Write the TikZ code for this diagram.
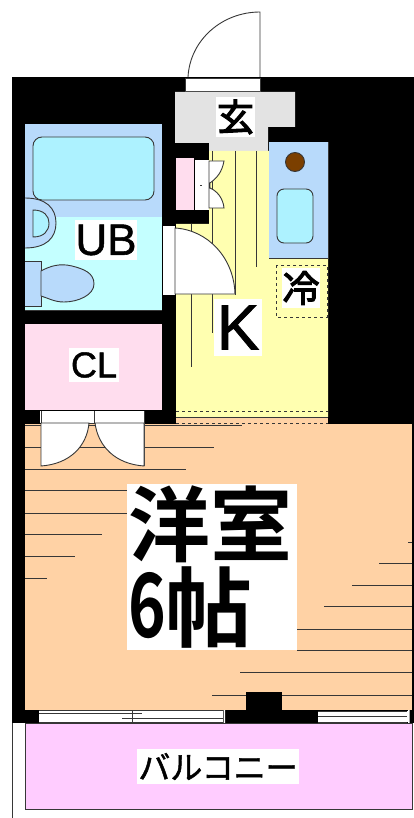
\documentclass[tikz,border=0pt]{standalone}
\usepackage{fontspec}
\setmainfont{Liberation Sans}
\newfontfamily\heavyfont[FakeBold=1.2]{Liberation Sans}
\newfontfamily\jpfont[FakeBold=1.5]{Noto Sans CJK JP}
\newfontfamily\jpheavyfont[FakeBold=3]{Noto Sans CJK JP}
\newfontfamily\jpbigfont{Noto Sans CJK JP Bold}
\definecolor{wallblack}{RGB}{0, 0, 0}
\definecolor{linegray}{RGB}{55, 55, 55}
\definecolor{entrygray}{RGB}{227, 227, 227}
\definecolor{unitblue}{RGB}{184, 218, 251}
\definecolor{tubcyan}{RGB}{173, 242, 255}
\definecolor{floorcyan}{RGB}{196, 255, 255}
\definecolor{closetpink}{RGB}{255, 221, 238}
\definecolor{kitchenyellow}{RGB}{255, 255, 176}
\definecolor{roomorange}{RGB}{255, 210, 165}
\definecolor{balconypink}{RGB}{255, 204, 255}
\definecolor{stovebrown}{RGB}{123, 63, 0}
\tikzset{
  thinline/.style={draw=linegray, line width=0.9pt},
  labelbox/.style={fill=white, inner sep=0pt, align=center, text=black}
}
\begin{document}
\begin{tikzpicture}[x=1pt, y=-1pt]
  \useasboundingbox (0,0) rectangle (414,818);
  % walls
  \fill[wallblack] (12,77) rectangle (414,723);
  % entrance door
  \draw[thinline, fill=white] (188,77) .. controls (190,40) and (222,12) .. (260,12) -- (260,77);
  \draw[thinline, fill=white] (185,78) rectangle (260,91);
  \fill[entrygray] (175,92) -- (295,92) -- (295,127) -- (268,127) -- (268,151) -- (209,151) -- (209,143) -- (175,143) -- cycle;
  % kitchen
  \fill[kitchenyellow] (209,151) -- (269,151) -- (269,258) -- (328,258) -- (328,417) -- (176,417) -- (176,224) -- (209,224) -- cycle;
  \fill[roomorange] (176,417) rectangle (328,424);
  \draw[thinline] (269,142) rectangle (328,258);
  \fill[unitblue] (269,142) rectangle (328,258);
  \draw[thinline, fill=stovebrown] (295,162) circle (9.5);
  \draw[thinline, fill=tubcyan, rounded corners=7pt] (277,189) rectangle (313,243);
  \draw[thinline] (212,151) -- (212,333) (235,151) -- (235,295) (256,151) -- (256,267) (191,224) -- (191,367);
  \draw[thinline, dashed] (176,411) -- (328,411) (176,423) -- (328,423);
  \draw[thinline] (176,417) -- (328,417);
  % shoe cabinet
  \fill[closetpink] (176,158) rectangle (194,210);
  \fill[white] (195,160) rectangle (209,210);
  \draw[thinline, fill=white] (209,161) -- (224,161) .. controls (222,172) and (217,178) .. (210,183) -- (210,188) .. controls (217,191) and (223,198) .. (224,208) -- (209,208) -- cycle;
  \draw[thinline] (200,185) -- (202,185);
  % bath door
  \fill[white] (163,226) rectangle (175,295);
  \draw[thinline, fill=white] (175,228) .. controls (208,230) and (234,258) .. (235,294) -- (175,294) -- cycle;
  % unit bath
  \fill[floorcyan] (25,217) rectangle (162,310);
  \fill[unitblue] (25,124) rectangle (162,217);
  \draw[thinline, fill=tubcyan, rounded corners=9pt] (33,137) rectangle (154,200);
  \draw[thinline, fill=unitblue] (25,198) .. controls (46,198) and (56,208) .. (56,223) .. controls (56,238) and (46,248) .. (25,248);
  \draw[thinline, fill=tubcyan] (33,210) .. controls (44,210) and (49,216) .. (49,223) .. controls (49,231) and (44,237) .. (33,237) -- cycle;
  \draw[thinline, fill=unitblue] (25,261) -- (41,261) -- (41,306) -- (25,306);
  \draw[thinline, fill=unitblue] (41,271) .. controls (50,266) and (60,263) .. (72,266) .. controls (84,269) and (94,273) .. (94,284) .. controls (94,295) and (78,302) .. (64,302) .. controls (54,302) and (48,298) .. (41,296) -- cycle;
  \draw[thinline] (25,310) -- (162,310);
  % closet
  \fill[closetpink] (25,324) rectangle (162,410);
  % western room
  \fill[roomorange] (25,424) rectangle (412,710);
  \fill[wallblack] (412,424) rectangle (414,723);
  \draw[thinline]
    (25,425) -- (242,425) (25,447) -- (214,447) (25,469) -- (186,469)
    (25,490) -- (127,490) (25,513) -- (127,513) (25,534) -- (102,534)
    (25,556) -- (75,556) (25,578) -- (47,578)
    (408,542) -- (412,542) (379,563) -- (412,563) (352,585) -- (412,585)
    (324,606) -- (412,606) (297,629) -- (412,629) (297,650) -- (412,650)
    (240,672) -- (412,672) (212,695) -- (412,695);
  % closet doors
  \fill[white] (40,411) rectangle (144,423);
  \draw[thinline] (41,411) -- (41,466) (144,411) -- (144,466) (94,411) -- (94,423) (41,423) -- (144,423);
  \draw[thinline, fill=white] (41,423) -- (89,423) .. controls (87,446) and (70,464) .. (41,466) -- cycle;
  \draw[thinline, fill=white] (144,423) -- (95,423) .. controls (98,446) and (115,464) .. (144,466) -- cycle;
  % windows
  \fill[wallblack] (246,692) rectangle (282,710);
  \fill[wallblack] (12,710) rectangle (414,723);
  \fill[white] (39,711) rectangle (223,722);
  \fill[white] (318,711) rectangle (408,722);
  \draw[thinline] (39,710) -- (223,710) (39,722) -- (223,722) (39,713.5) -- (142,713.5) (122,718.5) -- (223,718.5) (132.5,710) -- (132.5,722);
  \draw[thinline] (318,711) -- (407,711) (318,716) -- (407,716) (318,722) -- (407,722);
  \fill[white] (223.5,710) rectangle (225,723) (408,710) rectangle (409.5,723);
  % balcony
  \fill[white] (12,723) rectangle (25,818);
  \draw[thinline] (12.5,723) -- (12.5,818);
  \draw[thinline, fill=balconypink] (25,723) -- (25,809) -- (412,809) -- (412,723) -- cycle;
  % labels
  \node[labelbox, minimum width=39pt, minimum height=40pt, font=\jpheavyfont\fontsize{37}{37}\selectfont] (genkan) at (235.5,117) {玄};
  \node[labelbox, minimum width=60pt, minimum height=40pt, font=\heavyfont\fontsize{44}{44}\selectfont] (ub) at (106,240) {UB};
  \node[labelbox, minimum width=50pt, minimum height=34pt, font=\heavyfont\fontsize{36}{36}\selectfont] (cl) at (94,365) {CL};
  \node[labelbox, minimum width=48pt, minimum height=57pt, font=\heavyfont\fontsize{64}{64}\selectfont] (kitchen) at (238,327.5) {K};
  \draw[thinline, dashed, line width=1pt] (276,265) rectangle (327,317);
  \node[labelbox, minimum width=38pt, minimum height=40pt, font=\jpheavyfont\fontsize{37}{37}\selectfont] (fridge) at (301,288) {冷};
  \node[labelbox, minimum width=170pt, minimum height=166pt, text width=170pt, align=left, font=\jpbigfont\fontsize{82}{84}\selectfont] (room) at (212,567) {\hspace{1pt}洋室\\[-2pt]\hspace{1pt}\scalebox{0.78}[1.08]{6}\raisebox{-3pt}{\scalebox{1.06}{帖}}};
  \node[labelbox, minimum width=162pt, minimum height=35pt, font=\jpfont\fontsize{32}{32}\selectfont] (balcony) at (218,766.5) {バルコニー};
\end{tikzpicture}
\end{document}
